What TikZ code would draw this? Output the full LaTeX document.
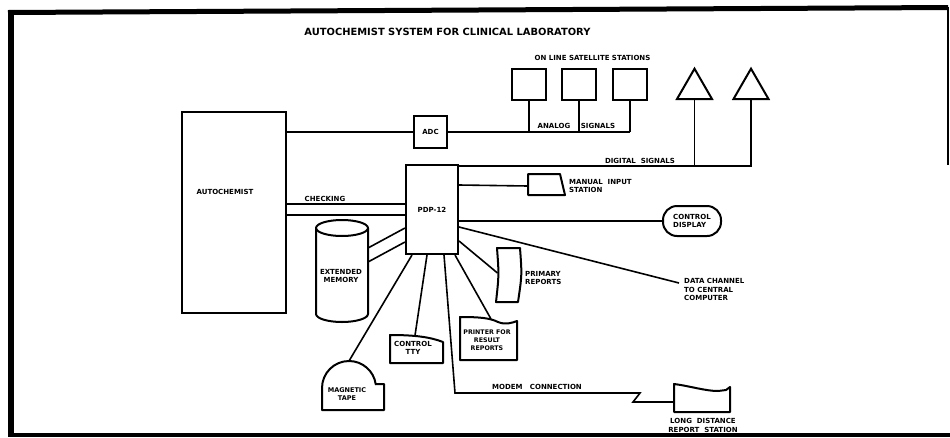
\documentclass[tikz,border=0pt]{standalone}
\usepackage{fontspec}
\setmainfont{DejaVu Sans}
\usetikzlibrary{shapes.geometric}
\begin{document}
\begin{tikzpicture}[x=1pt,y=-1pt,
  lblfont/.style={font=\fontsize{7}{8.3}\selectfont\bfseries},
  box/.style={draw, line width=2pt, inner sep=0pt, lblfont, align=center},
  shp/.style={draw, line width=2pt, line join=round},
  wire/.style={draw, line width=1.6pt},
  lbl/.style={lblfont, inner sep=0pt, align=center},
  lbll/.style={lblfont, inner sep=0pt, align=left},
  tri/.style={draw, line width=2pt, regular polygon, regular polygon sides=3,
              minimum size=40.4pt, inner sep=0pt, outer sep=0pt},
]
\useasboundingbox (0,0) rectangle (950,437);
% frame
\fill (8,11) rectangle (14,437);
\draw[line width=5pt] (8,12.5) -- (948,7.5);
\draw[line width=4pt] (8,435) -- (950,435);
\draw[line width=1.2pt] (948,7) -- (948,165);

% title
\node[font=\fontsize{9.9}{12}\selectfont\bfseries, inner sep=0pt] (title) at (447.5,32) {AUTOCHEMIST SYSTEM FOR CLINICAL LABORATORY};

% main blocks
\node[box, minimum width=104pt, minimum height=201pt] (auto) at (234,212.5) {};
\node[lbl] (autolbl) at (225,192) {AUTOCHEMIST};
\node[box, minimum width=33pt, minimum height=32pt] (adc) at (430.5,132) {ADC};
\node[box, minimum width=52pt, minimum height=89pt] (pdp) at (432,209.5) {PDP-12};

% satellite stations
\node[lbl] (satlbl) at (592.5,58) {ON LINE SATELLITE STATIONS};
\node[box, minimum width=34pt, minimum height=31pt] (sat1) at (529,84.5) {};
\node[box, minimum width=34pt, minimum height=31pt] (sat2) at (579,84.5) {};
\node[box, minimum width=34pt, minimum height=31pt] (sat3) at (630,84.5) {};
\coordinate (aj) at (sat3.south |- adc.east);
\draw[wire] (auto.east |- adc.west) -- (adc.west);
\draw[wire] (adc.east) -- (aj);
\draw[wire] (sat1.south) -- (sat1.south |- adc.east);
\draw[wire] (sat2.south) -- (sat2.south |- adc.east);
\draw[wire] (sat3.south) -- (aj);
\node[lbl] (analog) at (554,126) {ANALOG};
\node[lbl] (signals) at (598,126) {SIGNALS};

% triangles and digital signals
\node[tri] (tri1) at (694.5,88.9) {};
\node[tri] (tri2) at (751,88.9) {};
\coordinate (dstart) at ([yshift=-2pt]pdp.north east);
\coordinate (dj) at (tri2.south |- dstart);
\draw[wire] (dstart) -- (dj) -- (tri2.south);
\draw[wire] (tri1.south) -- (tri1.south |- dstart);
\node[lbl] (digital) at (640,160.5) {DIGITAL\ \ SIGNALS};

% checking
\coordinate (ck1) at ([yshift=-40pt]pdp.north west);
\coordinate (ck2) at ([yshift=-51pt]pdp.north west);
\draw[wire] (auto.east |- ck1) -- (ck1);
\draw[wire] (auto.east |- ck2) -- (ck2);
\node[lbl] (checking) at (325,198.5) {CHECKING};

% manual input station
\draw[shp] (528,174) -- (560,174) -- (565,195) -- (528,195) -- cycle;
\coordinate (manin) at (528,186);
\draw[wire] ([yshift=-21pt]pdp.north east) -- (manin);
\node[lbll, anchor=west] (manlbl) at (569,186) {MANUAL\ \ INPUT\\STATION};

% control display
\node[box, rounded corners=14pt, minimum width=58pt, minimum height=30pt, align=left] (disp) at (692,221) {CONTROL\\DISPLAY};
\draw[wire] (pdp.east |- disp.west) -- (disp.west);

% data channel
\coordinate (dce) at (679,283);
\draw[wire] ([yshift=-63pt]pdp.north east) -- (dce);
\node[lbll, anchor=north west] (dclbl) at (684,278.5) {DATA CHANNEL\\TO CENTRAL\\COMPUTER};

% primary reports
\draw[shp] (497,248) -- (520,248) .. controls (522,275) .. (518,302) -- (496,302) .. controls (499,275) .. (497,248) -- cycle;
\coordinate (prim) at (497.5,273);
\draw[wire] ([yshift=-77pt]pdp.north east) -- (prim);
\node[lbll, anchor=west] (primlbl) at (525,278) {PRIMARY\\REPORTS};

% extended memory
\draw[shp] (342,228) ellipse [x radius=26pt, y radius=8pt];
\draw[shp] (316,228) -- (316,314) arc[start angle=180, end angle=360, x radius=26pt, y radius=8pt] -- (368,228);
\node[lbl] (mem) at (341,276) {EXTENDED\\MEMORY};
\coordinate (cyl1) at (368,248);
\coordinate (cyl2) at (368,262);
\draw[wire] (cyl1) -- ([yshift=-64pt]pdp.north west);
\draw[wire] (cyl2) -- ([yshift=-78pt]pdp.north west);

% magnetic tape
\draw[shp] (322,410) -- (322,388) arc[start angle=180, end angle=8, radius=27pt] -- (384,384.2) -- (384,410) -- cycle;
\coordinate (tapetop) at (349,361);
\node[lbl, font=\fontsize{6.5}{8}\selectfont\bfseries] (tape) at (347,394) {MAGNETIC\\TAPE};
\draw[wire] ([xshift=7pt]pdp.south west) -- (tapetop);

% control TTY
\draw[shp] (390,335) .. controls (415,335) and (430,337) .. (443,342) -- (443,363) -- (390,363) -- cycle;
\coordinate (ttytop) at (415,335.5);
\node[lbl] (tty) at (413,348) {CONTROL\\TTY};
\draw[wire] ([xshift=22pt]pdp.south west) -- (ttytop);

% printer
\draw[shp] (460,317) .. controls (480,317) and (490,318) .. (498,322) .. controls (505,325) and (512,323) .. (517,321) -- (517,360) -- (460,360) -- cycle;
\coordinate (prtop) at (491,319);
\node[lbl, font=\fontsize{6.3}{7.8}\selectfont\bfseries] (printer) at (487,340) {PRINTER FOR\\RESULT\\REPORTS};
\draw[wire] ([xshift=-4pt]pdp.south east) -- (prtop);

% modem connection and long distance station
\draw[shp] (674,384) .. controls (690,386) and (705,391) .. (718,391) -- (726,390) -- (730,387) -- (730,412) -- (674,412) -- cycle;
\coordinate (ldin) at (674,402);
\coordinate (m1) at (455,393);
\coordinate (m2) at (640,393);
\coordinate (m3) at (633,402);
\draw[wire, line join=miter] ([xshift=39pt]pdp.south west) -- (m1) -- (m2) -- (m3) -- (ldin);
\node[lbl] (modem) at (537,386.5) {MODEM\ \ \ CONNECTION};
\node[lbl] (ldlbl) at (703,425.5) {LONG\ \ DISTANCE\\REPORT\ \ STATION};
\end{tikzpicture}
\end{document}
